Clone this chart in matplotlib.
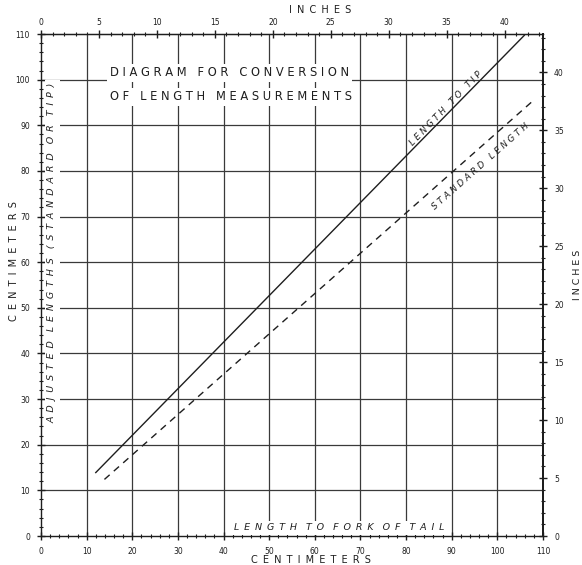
import numpy as np
import matplotlib
matplotlib.use('Agg')
import matplotlib.pyplot as plt
from matplotlib.ticker import MultipleLocator

# fork length (cm) -> adjusted lengths (cm), end points of each conversion line
fork_tip = [12.0, 105.9]
tip_len = [13.9, 109.7]
fork_std = [13.9, 108.3]
std_len = [12.4, 95.8]

cm_ticks = list(range(0, 111, 10))
inch_ticks = list(range(0, 41, 5))

ink = '#1e1e1e'
wide = ' \u2009'

def spaced(s, gap=' '):
    # letter-spaced lettering, wider gap between words
    return '   '.join(gap.join(w) for w in s.split(' '))

fig = plt.figure(figsize=(5.82, 5.65), dpi=100)
ax = fig.add_axes([41/582, 29/565, 502/582, 502/565])
ax.set_xlim(0, 110)
ax.set_ylim(0, 110)

# centimetre grid
for v in cm_ticks[1:-1]:
    ax.axvline(v, color='#3a3a3a', lw=0.9, zorder=1)
    ax.axhline(v, color='#3a3a3a', lw=0.9, zorder=1)

# conversion lines
ax.plot(fork_tip, tip_len, color=ink, lw=1.0, zorder=3)
ax.plot(fork_std, std_len, color=ink, lw=1.0, ls=(0, (5, 4)), zorder=3)

# axes ticks in centimetres
ax.set_xticks(cm_ticks)
ax.set_yticks(cm_ticks)
ax.xaxis.set_minor_locator(MultipleLocator(2))
ax.yaxis.set_minor_locator(MultipleLocator(2))
ax.tick_params(which='major', direction='inout', length=6, width=1.0, color=ink,
               labelsize=5.5, labelcolor=ink, pad=5)
ax.tick_params(which='minor', direction='inout', length=3, width=0.8, color=ink)
for sp in ax.spines.values():
    sp.set_color(ink)
    sp.set_linewidth(1.0)
ax.spines['right'].set_linewidth(1.4)

# inch scales on top and right
c2i = (lambda x: x / 2.54, lambda x: x * 2.54)
top = ax.secondary_xaxis('top', functions=c2i)
right = ax.secondary_yaxis('right', functions=c2i)
for sec in (top, right):
    sec.set_ticks(inch_ticks)
    sec.tick_params(which='major', direction='inout', length=6, width=1.0, color=ink,
                    labelsize=5.5, labelcolor=ink, pad=2)
    sec.tick_params(which='minor', direction='inout', length=3, width=0.8, color=ink)
    for sp in sec.spines.values():
        sp.set_color(ink)
right.tick_params(which='major', pad=5)
top.xaxis.set_minor_locator(MultipleLocator(1))
right.yaxis.set_minor_locator(MultipleLocator(1))
right.spines['right'].set_linewidth(1.4)

# axis titles
fig.text(311/582, 1 - 560/565, spaced('CENTIMETERS', wide), ha='center', va='center',
         fontsize=7, color=ink)
fig.text(320/582, 1 - 10/565, spaced('INCHES', wide), ha='center', va='center',
         fontsize=7, color=ink)
fig.text(14/582, 1 - 261/565, spaced('CENTIMETERS', wide), ha='center', va='center',
         rotation=90, fontsize=7, color=ink)
fig.text(577/582, 1 - 275/565, spaced('INCHES'), ha='center', va='center',
         rotation=90, fontsize=6.8, color=ink)

box = dict(facecolor='white', edgecolor='none', pad=2)

# heading
ax.text(15.1, 101.5, spaced('DIAGRAM FOR CONVERSION'), ha='left', va='center',
        fontsize=8.3, color=ink, bbox=box, zorder=4)
ax.text(15.1, 96.2, spaced('OF LENGTH MEASUREMENTS'), ha='left', va='center',
        fontsize=8.3, color=ink, bbox=box, zorder=4)

# line and axis captions
ax.text(2.5, 62, spaced('ADJUSTED LENGTHS (STANDARD OR TIP)', wide), ha='center', va='center',
        rotation=90, fontsize=6.8, style='italic', color=ink, bbox=box, zorder=4)
ax.text(65.4, 1.8, spaced('LENGTH TO FORK OF TAIL', wide), ha='center', va='center',
        fontsize=6.8, style='italic', color=ink, bbox=box, zorder=4)
ax.text(88.8, 93.6, spaced('LENGTH TO TIP'), ha='center', va='center',
        rotation=45.8, rotation_mode='anchor', fontsize=6.3, style='italic', color=ink, zorder=4)
ax.text(96.4, 81.0, spaced('STANDARD LENGTH'), ha='center', va='center',
        rotation=41.4, rotation_mode='anchor', fontsize=6.3, style='italic', color=ink, zorder=4)

fig.savefig('out.png', dpi=100, facecolor='white')
